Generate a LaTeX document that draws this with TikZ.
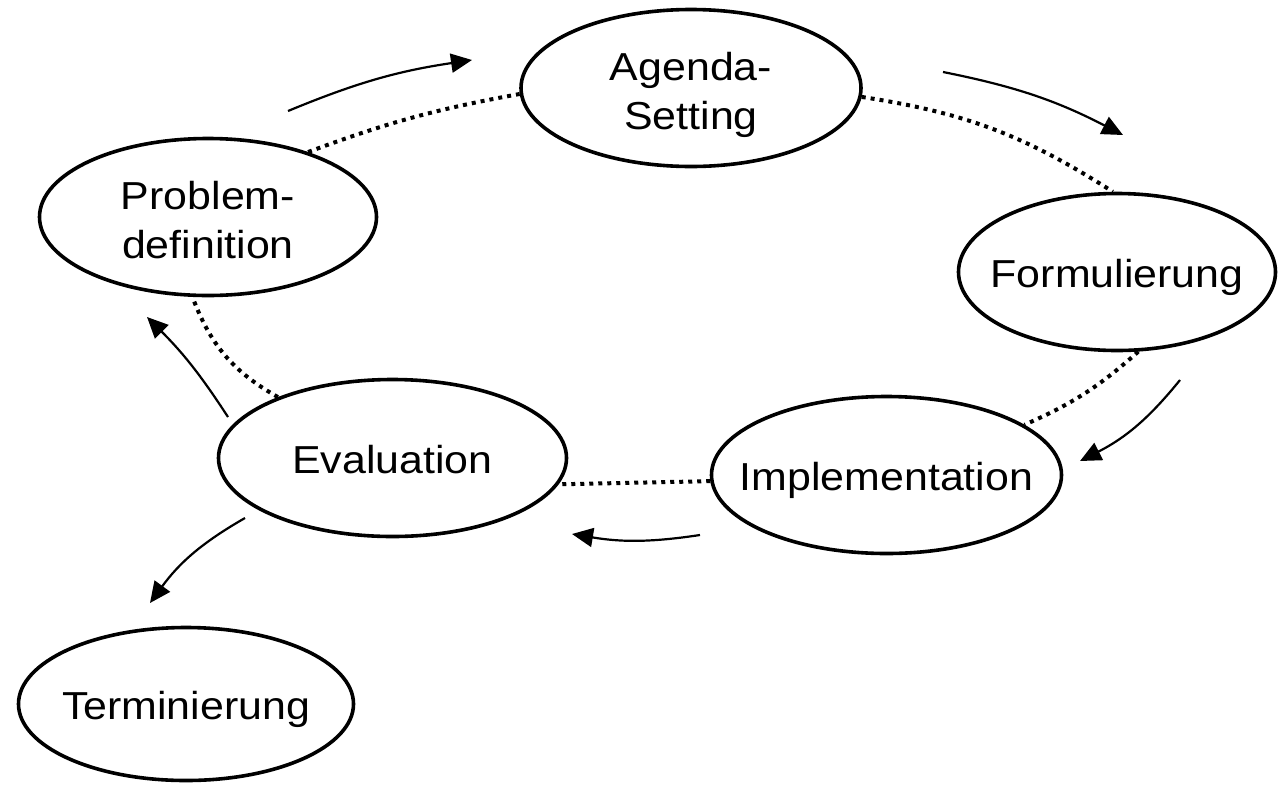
\documentclass[tikz,border=0pt]{standalone}
\usepackage{fontspec}
\newfontfamily\lbfont[FakeStretch=1.1]{Liberation Sans}
\usetikzlibrary{shapes.geometric,arrows.meta}
\newcommand\onel[1]{\makebox[0pt]{\raisebox{-15pt}[0pt][0pt]{#1}}}
\newcommand\twol[2]{\makebox[0pt]{\raisebox{-41pt}[0pt][0pt]{\begin{tabular}[b]{@{}c@{}}#1\\#2\end{tabular}}}}
\begin{document}
\begin{tikzpicture}[x=1pt,y=1pt,
  ell/.style={draw, line width=3.6pt, ellipse, inner sep=0pt,
    font=\lbfont\fontsize{39}{49}\selectfont},
  dots/.style={line width=4pt, dash pattern=on 4pt off 5pt},
  arr/.style={line width=2.2pt, -{Triangle[length=21pt,width=19pt]}}]
\useasboundingbox[fill=white] (0,0) rectangle (1279,-785);

\node[ell, minimum width=340pt, minimum height=157pt] (agenda) at (691,-88) {\twol{Agenda-}{Setting}};
\node[ell, minimum width=337pt, minimum height=157pt] (prob) at (208,-217) {\twol{Problem-}{definition}};
\node[ell, minimum width=317pt, minimum height=157pt] (form) at (1117,-272) {\onel{Formulierung}};
\node[ell, minimum width=350pt, minimum height=157pt] (impl) at (886.5,-475) {\onel{Implementation}};
\node[ell, minimum width=348pt, minimum height=157pt] (eval) at (392.5,-458) {\onel{Evaluation}};
\node[ell, minimum width=335pt, minimum height=153pt] (term) at (186,-704) {\onel{Terminierung}};

% dotted cycle
\draw[dots] (prob.33) to[bend left=5] (agenda.182);
\draw[dots] (agenda.357) to[bend left=12] (form.93);
\draw[dots] (form.285) to[bend left=9] (impl.20);
\draw[dots] (impl.182.6) -- (eval.351.6);
\draw[dots] (eval.152.7) to[bend left=20] (prob.259);

% arrows
\coordinate (a1s) at (288,-111); \coordinate (a1e) at (472,-60);
\coordinate (a2s) at (943,-72);  \coordinate (a2e) at (1123,-135);
\coordinate (a3s) at (1180,-380); \coordinate (a3e) at (1080,-461);
\coordinate (a4s) at (700,-535); \coordinate (a4e) at (572,-534);
\coordinate (a5s) at (228,-417); \coordinate (a5e) at (147,-317);
\coordinate (a6s) at (245,-518); \coordinate (a6e) at (150,-603);
\draw[arr] (a1s) to[bend left=7] (a1e);
\draw[arr] (a2s) to[bend left=8] (a2e);
\draw[arr] (a3s) to[bend left=12] (a3e);
\draw[arr] (a4s) to[bend left=9] (a4e);
\draw[arr] (a5s) to[bend right=6] (a5e);
\draw[arr] (a6s) to[bend right=12] (a6e);
\end{tikzpicture}
\end{document}
